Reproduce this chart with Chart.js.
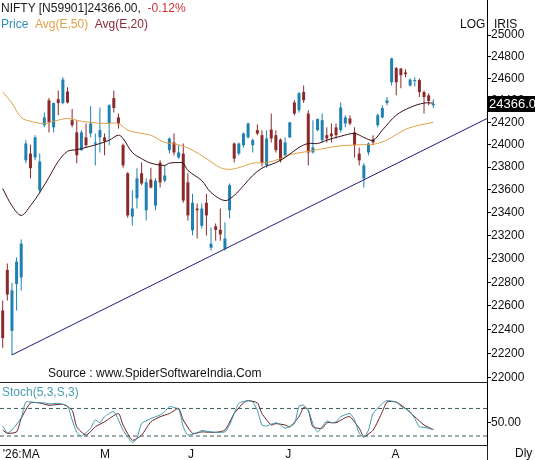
<!DOCTYPE html>
<html>
<head>
<meta charset="utf-8">
<script src="https://cdn.jsdelivr.net/npm/chart.js@4.4.1/dist/chart.umd.min.js"></script>
<style>
  body { margin: 0; background: #fff; }
  #wrap { position: relative; width: 535px; height: 460px; overflow: hidden;
          font-family: "Liberation Sans", Arial, sans-serif; font-size: 12px; }
  #wrap canvas { position: absolute; left: 0; }
  .lbl { position: absolute; white-space: nowrap; line-height: 14px; }
</style>
</head>
<body>
<div id="wrap">
  <canvas id="priceChart" width="535" height="382" style="top:0"></canvas>
  <canvas id="stochChart" width="535" height="78" style="top:382px"></canvas>

  <div class="lbl" style="left:1px;top:1px;color:#1a1a1a">NIFTY [N59901]24366.00,&nbsp;&nbsp;<span style="color:#cc3333">-0.12%</span></div>
  <div class="lbl" style="left:1px;top:17px"><span style="color:#2f8db5">Price</span>&nbsp;&nbsp;<span style="color:#e0a048">Avg(E,50)</span>&nbsp;&nbsp;<span style="color:#8a2a36">Avg(E,20)</span></div>
  <div class="lbl" style="left:460px;top:17px;color:#111">LOG</div>
  <div class="lbl" style="left:494px;top:17px;color:#111">IRIS</div>
  <div class="lbl" style="left:48px;top:366px;color:#111">Source : www.SpiderSoftwareIndia.Com</div>
  <div class="lbl" style="left:2px;top:385px;color:#4a9cb0">Stoch(5,3,S,3)</div>
  <div class="lbl" style="left:515px;top:446px;color:#111">Dly</div>
</div>

<script>
// daily candles, index 0..93
const candleOpen = [
  22560, 22905, 22390, 22785, 22840, 23860, 23920, 23885, 23595, 24175,
  24400, 24155, 24410, 24375, 24480, 24220, 24110, 23950, 24065, 24100,
  24010, 24065, 24065, 24190, 24420, 24245, 23995, 23745, 23365, 23525,
  23745, 23420, 23690, 23460, 23840, 23680, 23950, 24020, 23885, 23920,
  23665, 23245, 23435, 23285, 23485, 23095, 23280, 23250, 23085, 23420,
  24010, 23920, 23995, 24065, 23995, 24130, 24085, 23815, 24135, 24085,
  24045, 23905, 24065, 24380, 24310, 24475, 24280, 23930, 24130, 24040,
  24085, 24100, 24155, 24130, 24190, 24235, 24110, 23920, 23700, 23930,
  24045, 24175, 24245, 24375, 24565, 24695, 24690, 24655, 24535, 24575,
  24585, 24475, 24445, 24355
];
const candleHigh = [
  22645, 22960, 22795, 23010, 23165, 24040, 24000, 24085, 23920, 24290,
  24420, 24380, 24490, 24610, 24520, 24320, 24220, 24130, 24190, 24345,
  24100, 24335, 24100, 24365, 24490, 24280, 24010, 23755, 23595, 23790,
  23840, 23700, 23795, 23700, 23860, 23815, 24065, 24100, 23995, 24010,
  23745, 23565, 23480, 23480, 23565, 23270, 23305, 23435, 23315, 23655,
  24020, 24020, 24110, 24200, 24055, 24180, 24130, 24130, 24280, 24130,
  24055, 24065, 24205, 24400, 24475, 24535, 24310, 24220, 24235, 24280,
  24155, 24190, 24190, 24380, 24265, 24265, 24155, 23975, 23835, 24020,
  24085, 24280, 24355, 24430, 24790, 24705, 24695, 24685, 24600, 24610,
  24600, 24490, 24465, 24410
];
const candleLow = [
  22250, 22645, 22190, 22560, 22730, 23835, 23700, 23860, 23565, 24155,
  24110, 24110, 24265, 24365, 24370, 24155, 23835, 23945, 23975, 24065,
  23815, 23930, 23905, 23995, 24290, 24145, 23795, 23355, 23285, 23435,
  23640, 23330, 23610, 23420, 23620, 23665, 23920, 23905, 23875, 23485,
  23330, 23200, 23175, 23260, 23200, 23070, 23155, 23155, 23070, 23350,
  23840, 23905, 23975, 24055, 23930, 24085, 23805, 23795, 24020, 23930,
  23840, 23895, 24060, 24265, 24290, 24375, 23815, 23920, 24120, 24020,
  24020, 24020, 24055, 24110, 24155, 24175, 23885, 23815, 23620, 23905,
  23995, 24155, 24235, 24355, 24535, 24445, 24510, 24610, 24525, 24525,
  24430, 24280, 24355, 24330
];
const candleClose = [
  22330, 22695, 22730, 22975, 23130, 24010, 23790, 24065, 23850, 24245,
  24200, 24375, 24375, 24590, 24380, 24175, 23905, 24110, 23995, 24190,
  24020, 24130, 24030, 24355, 24330, 24190, 23815, 23375, 23435, 23700,
  23655, 23665, 23620, 23680, 23665, 23725, 24055, 23930, 23930, 23505,
  23375, 23485, 23420, 23435, 23375, 23130, 23250, 23210, 23175, 23640,
  23875, 24010, 24100, 24190, 24040, 24100, 23835, 24055, 24055, 23950,
  23860, 24020, 24200, 24280, 24465, 24400, 23930, 23975, 24230, 24220,
  24055, 24075, 24085, 24335, 24245, 24190, 23995, 23860, 23815, 24010,
  24020, 24265, 24330, 24400, 24785, 24565, 24630, 24640, 24590, 24585,
  24475, 24430, 24395, 24366
];

// moving averages at sample candles
const ema20Idx = [0, 2, 4, 6, 8, 10, 12, 14, 16, 18, 21, 23, 25, 26, 28, 30, 32, 35, 36, 38,
  39, 40, 43, 45, 48, 50, 52, 54, 56, 59, 61, 64, 66, 68, 70, 73, 76, 78, 80, 82, 85, 88, 91, 93];
const ema20Val = [23610, 23460, 23375, 23460, 23575, 23710, 23850, 23940, 23955, 23975,
  24010, 24040, 24085, 24055, 23930, 23875, 23835, 23815, 23835, 23840,
  23835, 23770, 23680, 23575, 23505, 23550, 23635, 23725, 23790, 23840,
  23885, 23975, 24010, 24010, 24040, 24075, 24100, 24065, 24040, 24130,
  24265, 24335, 24375, 24375];
const ema50Idx = [0, 2, 4, 6, 9, 11, 14, 17, 19, 22, 25, 27, 30, 32, 35, 38, 41, 44, 47, 49,
  51, 54, 57, 60, 62, 66, 68, 72, 75, 78, 81, 84, 87, 90, 93];
const ema50Val = [24475, 24375, 24245, 24210, 24190, 24210, 24235, 24210, 24200, 24190,
  24190, 24130, 24100, 24085, 24020, 24000, 23950, 23875, 23795, 23780,
  23795, 23835, 23840, 23875, 23910, 23940, 23955, 23985, 23995, 24000,
  24010, 24065, 24137, 24175, 24200];

// trendline from the early low
const trendIdx = [2, 104.6];
const trendVal = [22190, 24235];

// stochastic
const stochKIdx = [0, 1, 2, 4, 5, 7, 9, 10, 12, 14, 15, 16, 17, 19, 20, 21, 22, 24, 26, 28,
  29, 30, 32, 34, 35, 36, 38, 39, 40, 42, 43, 45, 48, 49, 51, 53, 54, 55, 56, 57,
  59, 60, 61, 63, 64, 65, 66, 67, 68, 69, 70, 71, 72, 73, 75, 76, 77, 78, 79, 80,
  82, 83, 85, 86, 88, 89, 90, 91, 93];
const stochKVal = [42, 27, 33, 60, 94, 93, 92, 90, 91, 85, 55, 28, 20, 37, 55, 49, 62, 73, 33, 6,
  15, 47, 58, 66, 73, 84, 78, 40, 22, 27, 32, 29, 29, 44, 91, 97, 94, 76, 44, 42,
  49, 44, 37, 47, 85, 87, 76, 47, 29, 40, 53, 49, 51, 62, 69, 55, 26, 17, 33, 69,
  91, 97, 94, 85, 73, 58, 40, 39, 34];
const stochDIdx = [0, 1, 3, 4, 6, 8, 10, 13, 15, 16, 18, 20, 22, 25, 26, 28, 30, 32, 34, 36,
  38, 39, 41, 43, 46, 48, 50, 52, 53, 55, 56, 58, 59, 61, 62, 64, 65, 66, 67, 69,
  70, 72, 74, 75, 77, 78, 80, 82, 83, 85, 87, 89, 91, 93];
const stochDVal = [33, 26, 29, 58, 92, 92, 87, 89, 76, 40, 22, 40, 51, 69, 44, 11, 22, 51, 62, 69,
  80, 55, 26, 29, 28, 33, 69, 92, 97, 92, 69, 44, 47, 44, 40, 62, 82, 76, 40, 37,
  49, 49, 60, 62, 37, 19, 33, 73, 94, 94, 80, 62, 44, 34];
const stochLevels = [20, 80];

const priceTicks = [22000, 22200, 22400, 22600, 22800, 23000, 23200, 23400, 23600, 23800,
  24000, 24200, 24400, 24600, 24800, 25000];
const monthIdx = [0, 21, 40, 61, 84];
const monthLabels = ["'26:MA", 'M', 'J', 'J', 'A'];

const lastClose = candleClose[candleClose.length - 1];
const xMin = -0.58, xMax = 104.6;
const upColor = '#1f80b2', downColor = '#8a2a2a';
const axisFont = { family: 'Liberation Sans', size: 12 };

const candleColors = candleOpen.map((o, i) => candleClose[i] >= o ? upColor : downColor);
const pts = (xs, ys) => xs.map((x, i) => ({ x: x, y: ys[i] }));

function fixAxisWidth(s) {
  s.width = 48;
  s.paddingTop = 0;
  s.paddingBottom = 0;
}

const lastPriceTag = {
  id: 'lastPriceTag',
  afterDraw(chart) {
    const s = chart.scales.y, ctx = chart.ctx;
    const y = s.getPixelForValue(lastClose);
    ctx.save();
    ctx.fillStyle = '#000';
    ctx.fillRect(s.left, Math.round(y) - 8, s.width, 16);
    ctx.fillStyle = '#fff';
    ctx.font = '13px "Liberation Sans"';
    ctx.textBaseline = 'middle';
    ctx.fillText(lastClose.toFixed(2), s.left + 2, Math.round(y) + 0.5);
    ctx.restore();
  }
};

const stochFrame = {
  id: 'stochFrame',
  afterDraw(chart) {
    const a = chart.chartArea, ctx = chart.ctx;
    ctx.save();
    ctx.strokeStyle = '#222';
    ctx.lineWidth = 1;
    ctx.beginPath();
    ctx.moveTo(a.left, a.top + 0.5);
    ctx.lineTo(a.right, a.top + 0.5);
    ctx.moveTo(Math.round(a.right) + 0.5, a.bottom);
    ctx.lineTo(Math.round(a.right) + 0.5, chart.height);
    ctx.stroke();
    ctx.restore();
  }
};

new Chart(document.getElementById('priceChart'), {
  type: 'bar',
  data: {
    datasets: [
      { type: 'line', label: 'Avg(E,20)', data: pts(ema20Idx, ema20Val), borderColor: '#3a0e14',
        borderWidth: 1, pointRadius: 0, tension: 0.35 },
      { type: 'line', label: 'Avg(E,50)', data: pts(ema50Idx, ema50Val), borderColor: '#e0a048',
        borderWidth: 1, pointRadius: 0, tension: 0.35 },
      { type: 'line', label: 'trend', data: pts(trendIdx, trendVal), borderColor: '#1e1e7c',
        borderWidth: 1, pointRadius: 0 },
      { label: 'body', data: candleOpen.map((o, i) => ({ x: i, y: [o, candleClose[i]] })),
        backgroundColor: candleColors, barThickness: 3, minBarLength: 1, grouped: false, inflateAmount: 0 },
      { label: 'wick', data: candleLow.map((l, i) => ({ x: i, y: [l, candleHigh[i]] })),
        backgroundColor: candleColors, barThickness: 1, grouped: false, inflateAmount: 0 }
    ]
  },
  options: {
    responsive: false, animation: false, devicePixelRatio: 1,
    layout: { padding: 0 },
    plugins: { legend: { display: false }, tooltip: { enabled: false } },
    scales: {
      x: { type: 'linear', min: xMin, max: xMax, bounds: 'data', offset: false, display: false },
      y: {
        type: 'logarithmic', position: 'right', min: 21967, max: 25330, bounds: 'data',
        afterBuildTicks: s => { s.ticks = priceTicks.map(v => ({ value: v })); },
        afterFit: fixAxisWidth,
        border: { display: true, color: '#000' },
        grid: { drawOnChartArea: false, drawTicks: true, tickLength: 4, color: '#000' },
        ticks: { autoSkip: false, padding: 0, color: '#111', font: axisFont, callback: v => String(v) }
      }
    }
  },
  plugins: [lastPriceTag]
});

new Chart(document.getElementById('stochChart'), {
  type: 'line',
  data: {
    datasets: [
      { label: '%K', data: pts(stochKIdx, stochKVal), borderColor: '#3d98aa', borderWidth: 1,
        pointRadius: 0, tension: 0.2 },
      { label: '%D', data: pts(stochDIdx, stochDVal), borderColor: '#6a1c22', borderWidth: 1,
        pointRadius: 0, tension: 0.2 },
      ...stochLevels.map(v => ({ label: 'L' + v, data: [{ x: xMin, y: v }, { x: xMax, y: v }],
        borderColor: '#3e5a5a', borderWidth: 1, borderDash: [4, 3], pointRadius: 0 }))
    ]
  },
  options: {
    responsive: false, animation: false, devicePixelRatio: 1,
    layout: { padding: 0 },
    plugins: { legend: { display: false }, tooltip: { enabled: false } },
    scales: {
      x: {
        type: 'linear', min: xMin, max: xMax, bounds: 'data', position: 'bottom',
        afterBuildTicks: s => { s.ticks = monthIdx.map(v => ({ value: v })); },
        afterFit: s => { s.height = 15; },
        border: { display: true, color: '#222' },
        grid: { drawOnChartArea: false, drawTicks: false },
        ticks: { autoSkip: false, maxRotation: 0, align: 'start', padding: 2, color: '#111',
          font: axisFont, callback: (v, i) => monthLabels[i] }
      },
      y: {
        type: 'linear', position: 'right', min: 0.5, max: 137.6, bounds: 'data',
        afterBuildTicks: s => { s.ticks = [{ value: 50 }]; },
        afterFit: fixAxisWidth,
        border: { display: true, color: '#000' },
        grid: { drawOnChartArea: false, drawTicks: true, tickLength: 4, color: '#000' },
        ticks: { padding: 0, color: '#111', font: axisFont, callback: () => '50.00' }
      }
    }
  },
  plugins: [stochFrame]
});
</script>
</body>
</html>
